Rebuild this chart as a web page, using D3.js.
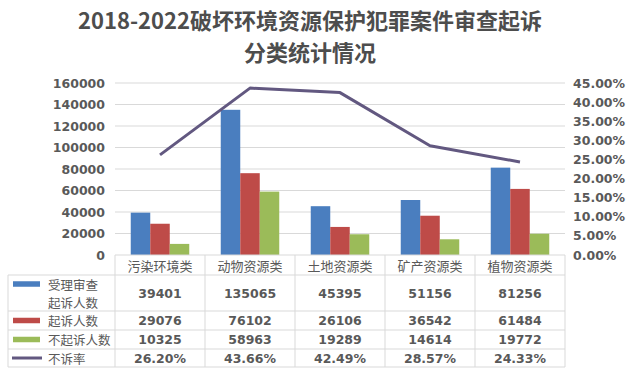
<!DOCTYPE html>
<html><head><meta charset="utf-8">
<script src="https://cdn.jsdelivr.net/npm/d3@7"></script>
<style>
html,body{margin:0;padding:0;background:#fff;}
svg{display:block;}
</style></head>
<body>
<svg id="chart" width="631" height="381"></svg>
<script>
const categories = ["污染环境类","动物资源类","土地资源类","矿产资源类","植物资源类"];
const reviewed = [39401,135065,45395,51156,81256];
const prosecuted = [29076,76102,26106,36542,61484];
const notProsecuted = [10325,58963,19289,14614,19772];
const rate = [0.2620,0.4366,0.4249,0.2857,0.2433];
const rateLabels = ["26.20%","43.66%","42.49%","28.57%","24.33%"];
const leftTicks = [0,20000,40000,60000,80000,100000,120000,140000,160000];
const rightTicks = [0,0.05,0.10,0.15,0.20,0.25,0.30,0.35,0.40,0.45];
const titleLines = ["2018-2022破坏环境资源保护犯罪案件审查起诉","分类统计情况"];
const seriesNames = ["受理审查\n起诉人数","起诉人数","不起诉人数","不诉率"];
const barSeries = [reviewed, prosecuted, notProsecuted];
const colors = ["#4a7ebf","#be4b48","#9bbb59"];
const lineColor = "#625880";

const svg = d3.select("#chart");
const txt = "#595959";
const gridC = "#d9d9d9";
const numFont = "'DejaVu Sans', Verdana, sans-serif";
const cjkFont = "'Noto Sans CJK SC', sans-serif";

const L = 115, R = 565, T = 83, B = 255;
const y = d3.scaleLinear().domain([0,160000]).range([B,T]);
const y2 = d3.scaleLinear().domain([0,0.45]).range([B,T]);
const x0 = d3.scaleBand().domain(categories).range([L,R]);
const cw = x0.bandwidth();
const x1 = d3.scaleBand().domain([0,1,2]).range([cw*0.175, cw*0.825]);

// title
svg.selectAll("text.title").data(titleLines).join("text")
  .attr("class","title")
  .attr("x",310).attr("y",(d,i)=>18.5+i*32)
  .attr("text-anchor","middle").attr("dominant-baseline","central")
  .attr("font-family",cjkFont).attr("font-weight","bold").attr("font-size",22)
  .attr("fill","#4d4d4d").text(d=>d);

// gridlines
svg.append("g").selectAll("line").data(leftTicks.slice(1)).join("line")
  .attr("x1",L).attr("x2",R).attr("y1",d=>y(d)).attr("y2",d=>y(d))
  .attr("stroke",gridC).attr("stroke-width",1);

// left axis
const la = svg.append("g").attr("transform",`translate(${L},0)`)
  .call(d3.axisLeft(y).tickValues(leftTicks).tickSize(0).tickPadding(10).tickFormat(d3.format("d")));
la.select(".domain").remove();
la.selectAll("text").attr("font-family",numFont).attr("font-weight","bold")
  .attr("font-size",12.5).attr("fill",txt);

// right axis
const ra = svg.append("g").attr("transform",`translate(${R},0)`)
  .call(d3.axisRight(y2).tickValues(rightTicks).tickSize(0).tickPadding(8).tickFormat(d3.format(".2%")));
ra.select(".domain").remove();
ra.selectAll("text").attr("font-family",numFont).attr("font-weight","bold")
  .attr("font-size",12.5).attr("fill",txt);

// bars
barSeries.forEach((s,si)=>{
  svg.append("g").selectAll("rect").data(s).join("rect")
    .attr("x",(d,i)=>x0(categories[i])+x1(si))
    .attr("width",x1.bandwidth())
    .attr("y",d=>y(d)).attr("height",d=>B-y(d))
    .attr("fill",colors[si]);
});

// line
const line = d3.line().x((d,i)=>x0(categories[i])+cw/2).y(d=>y2(d));
svg.append("path").datum(rate).attr("d",line)
  .attr("fill","none").attr("stroke",lineColor).attr("stroke-width",3)
  .attr("stroke-linejoin","round");

// table
const rowY = [255,275,311,330,349,367];
const tL = 8;
const tg = svg.append("g");
rowY.forEach((ry,i)=>{
  tg.append("line").attr("x1",i===0?L:tL).attr("x2",R).attr("y1",ry).attr("y2",ry)
    .attr("stroke",gridC).attr("stroke-width",1);
});
const colX = [L].concat(categories.map(c=>x0(c)+cw));
colX.forEach(cx=>{
  tg.append("line").attr("x1",cx).attr("x2",cx).attr("y1",255).attr("y2",367)
    .attr("stroke",gridC).attr("stroke-width",1);
});
tg.append("line").attr("x1",tL).attr("x2",tL).attr("y1",275).attr("y2",367)
  .attr("stroke",gridC).attr("stroke-width",1);

// category header
tg.selectAll("text.cat").data(categories).join("text")
  .attr("x",d=>x0(d)+cw/2).attr("y",265.5)
  .attr("text-anchor","middle").attr("dominant-baseline","central")
  .attr("font-family",cjkFont).attr("font-size",13).attr("fill",txt).text(d=>d);

// values
const rows = [reviewed.map(String), prosecuted.map(String), notProsecuted.map(String), rateLabels];
rows.forEach((r,ri)=>{
  const cy = (rowY[ri+1]+rowY[ri+2])/2;
  tg.append("g").selectAll("text").data(r).join("text")
    .attr("x",(d,i)=>x0(categories[i])+cw/2).attr("y",cy)
    .attr("text-anchor","middle").attr("dominant-baseline","central")
    .attr("font-family",numFont).attr("font-weight","bold").attr("font-size",12.5)
    .attr("fill",txt).text(d=>d);
});

// legend
seriesNames.forEach((name,ri)=>{
  const lines = name.split("\n");
  const cy = (rowY[ri+1]+rowY[ri+2])/2;
  const keyY = lines.length>1 ? cy-9 : cy;
  if(ri<3){
    tg.append("rect").attr("x",13).attr("y",keyY-2.75).attr("width",27).attr("height",5.5)
      .attr("fill",colors[ri]);
  } else {
    tg.append("line").attr("x1",12).attr("x2",42).attr("y1",keyY).attr("y2",keyY)
      .attr("stroke",lineColor).attr("stroke-width",3);
  }
  lines.forEach((ln,li)=>{
    tg.append("text").attr("x",48).attr("y",keyY+li*18)
      .attr("dominant-baseline","central")
      .attr("font-family",cjkFont).attr("font-size",12.5).attr("fill",txt).text(ln);
  });
});
</script>
</body></html>
